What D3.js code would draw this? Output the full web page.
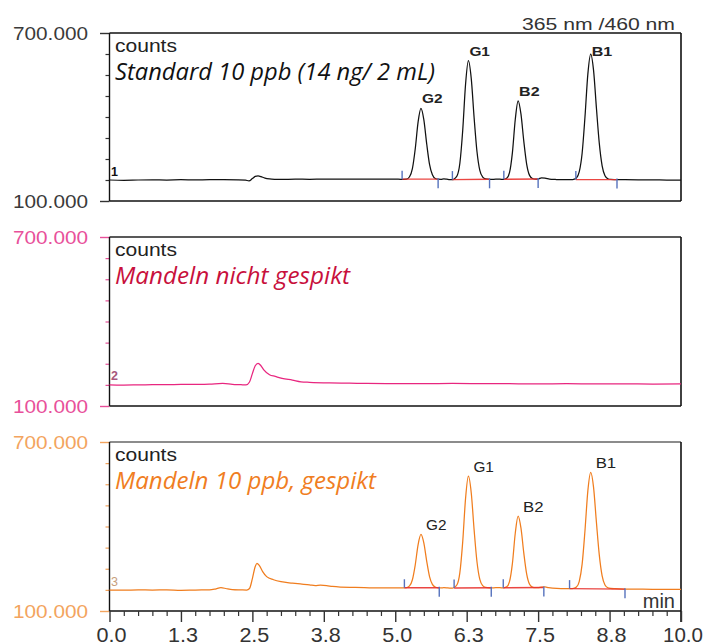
<!DOCTYPE html>
<html>
<head>
<meta charset="utf-8">
<script src="https://cdn.jsdelivr.net/npm/d3@7"></script>
<style>
  html, body { margin: 0; padding: 0; background: #fff; }
  svg { display: block; }
</style>
</head>
<body>
<svg id="chart" width="707" height="644"></svg>
<script>
// ---------------- DATA ----------------
const xTicks = [0, 1.25, 2.5, 3.75, 5, 6.25, 7.5, 8.75, 10];
const xTickLabels = ["0.0", "1.3", "2.5", "3.8", "5.0", "6.3", "7.5", "8.8", "10.0"];
const yDomain = [100, 700];               // thousands of counts
const yTickLabels = ["700.000", "100.000"];
const traceTitles = ["Standard 10 ppb (14 ng/ 2 mL)", "Mandeln nicht gespikt", "Mandeln 10 ppb, gespikt"];
const traceIds = ["1", "2", "3"];
const peakNames = ["G2", "G1", "B2", "B1"];
const peakTimes = [5.45, 6.28, 7.15, 8.42];
const peakHeights1 = [431, 601, 458, 625];
const peakHeights3 = [372, 578.5, 437, 592.5];

// integration windows (start / end time, baseline value at start / end)
const intStart1 = [5.12, 6.00, 6.90, 8.16];
const intEnd1   = [5.75, 6.65, 7.50, 8.88];
const intBaseStart1 = [178, 176.5, 177.5, 176.5];
const intBaseEnd1   = [178, 177.5, 178.5, 176.5];
const intStart3 = [5.16, 6.03, 6.89, 8.05];
const intEnd3   = [5.77, 6.68, 7.60, 9.02];
const intBaseStart3 = [182.5, 181.5, 182.5, 179.5];
const intBaseEnd3   = [182.5, 182.5, 183.5, 177.5];

// traces: [time (min), counts (thousands)]
const trace1 = [
  [0,175],[0.25,174],[0.5,175],[0.75,175.5],[1,175],[1.25,176],[1.5,175.5],[1.75,176],[2,176],[2.25,175.5],[2.38,174.5],[2.44,172],[2.5,180],[2.55,188],[2.6,190],[2.65,187],[2.72,182],[2.8,179],[2.9,177.5],[3,177],[3.1,177.5],[3.25,178],[3.5,177.5],[3.75,178],[4,178],[4.25,178],[4.5,178.5],[4.75,178],[5,178],[5.1,177.5],
  [5.2,178.5],[5.25,186.5],[5.3,215.5],[5.35,286.5],[5.4,382.5],[5.45,431],[5.5,390.5],[5.55,304.5],[5.6,230.5],[5.65,193.5],[5.7,180.5],[5.75,178],[5.8,177.5],[5.85,179],[5.9,178],[5.95,176.5],[6.0,176],
  [6.03,178.7],[6.08,189],[6.13,234],[6.18,351],[6.23,516],[6.28,601],[6.33,537],[6.38,397.5],[6.43,276.6],[6.48,209],[6.53,185.5],[6.58,179],[6.65,177.5],[6.72,177.5],[6.8,178],[6.86,177.5],
  [6.9,177.5],[6.95,181],[7.0,202],[7.05,273],[7.1,391],[7.15,458],[7.2,410],[7.25,312],[7.3,231],[7.35,191.5],[7.4,180.5],[7.45,178],[7.5,178.5],[7.56,183],[7.62,182],[7.7,178.5],[7.8,177],[7.9,176],[8.0,176],[8.07,176.5],
  [8.12,177.5],[8.17,182.3],[8.22,204.7],[8.27,270.7],[8.32,400.7],[8.37,553.2],[8.42,625],[8.47,566.7],[8.52,432.1],[8.57,306.6],[8.62,225.8],[8.67,190.4],[8.72,179.6],[8.77,177],[8.85,176.5],[9.0,176],[9.25,175.5],[9.5,175.5],[9.75,175],[10,175]
];
const trace2 = [
  [0,174.6],[0.25,174.5],[0.5,175],[0.75,175.5],[1,176],[1.25,176.5],[1.5,177],[1.75,178],[1.98,180],[2.15,177],[2.3,175.5],[2.39,174.6],[2.45,185],[2.5,215],[2.55,243],[2.6,251.6],[2.65,243],[2.7,228],[2.8,211],[2.9,205],[3.02,198],[3.2,192],[3.35,186],[3.5,184],[3.85,181.7],[4.2,181],[4.5,180],[5,179.5],[5.5,179],[6,180],[6.5,179.5],[7,179],[7.5,178.5],[8,179],[8.5,178.5],[9,178.5],[9.5,178],[10,178.5]
];
const trace3 = [
  [0,174.5],[0.25,174],[0.5,175],[0.75,174.5],[1,175],[1.25,173.5],[1.5,174.5],[1.75,175],[1.85,178],[1.95,183],[2.05,179],[2.15,176],[2.3,175],[2.4,174.5],[2.45,180],[2.5,215],[2.55,258],[2.58,269],[2.62,262],[2.68,240],[2.75,222],[2.87,211],[3.0,204],[3.2,199],[3.34,196],[3.5,193],[3.6,190],[3.69,191.5],[3.8,190],[3.9,187],[4.04,185],[4.3,184],[4.74,182],[5.0,182.5],[5.1,182],
  [5.2,183.4],[5.25,189],[5.3,211],[5.35,264],[5.4,336],[5.45,372],[5.5,341.7],[5.55,277.3],[5.6,222.3],[5.65,194.4],[5.7,185],[5.75,182.5],[5.8,182],[5.85,183],[5.9,182.5],[5.95,181.5],[6.0,181.5],
  [6.03,183.6],[6.08,193],[6.13,235.5],[6.18,344.6],[6.23,499],[6.28,578.5],[6.33,519],[6.38,388],[6.43,275],[6.48,212],[6.53,190],[6.58,184],[6.65,182.5],[6.72,182.5],[6.8,183],[6.86,182.5],
  [6.9,182.5],[6.95,185.8],[7.0,205],[7.05,269],[7.1,376],[7.15,437],[7.2,394],[7.25,304.7],[7.3,231],[7.35,195],[7.4,185],[7.45,183],[7.5,183],[7.56,185],[7.62,185.5],[7.68,183],[7.75,181],[7.9,179.5],[8.0,179.5],[8.07,179.5],
  [8.12,180.3],[8.17,184.9],[8.22,205.5],[8.27,266.2],[8.32,386],[8.37,526.4],[8.42,592.5],[8.47,538.8],[8.52,415],[8.57,299.3],[8.62,225],[8.67,192.3],[8.72,182.4],[8.77,180],[8.85,179],[9.0,178],[9.25,177.5],[9.5,177],[9.75,177],[10,177]
];

// ---------------- LAYOUT / STYLE ----------------
const svg = d3.select("#chart");
svg.append("rect").attr("width", 707).attr("height", 644).attr("fill", "#fff");

const plotL = 109.5, plotR = 681, tickL = 100;
const x = d3.scaleLinear().domain([0, 10]).range([plotL, plotR]);
const SANS = "'Liberation Sans', Arial, sans-serif";
const titleWidths = [320, 235, 261];

const panels = [
  { top: 33,  bottom: 201, data: trace1, traceColor: "#111", labelColor: "#3a3a3a", tickColor: "#333",
    titleColor: "#111", idColor: "#111", idWeight: "bold", topColor: "#111",
    peaks: peakHeights1, ints: [intStart1, intEnd1, intBaseStart1, intBaseEnd1],
    peakFont: 12, peakWeight: "bold", peakDx: 1, peakDy: 5, peakMin: 23 },
  { top: 237, bottom: 406, data: trace2, traceColor: "#e8267f", labelColor: "#e8509a", tickColor: "#e8509a",
    titleColor: "#c8103c", idColor: "#a8587c", idWeight: "bold", topColor: "#222",
    peaks: null, ints: null },
  { top: 442, bottom: 611, data: trace3, traceColor: "#f07d1e", labelColor: "#f3a45e", tickColor: "#f3a45e",
    titleColor: "#f07d22", idColor: "#c79e7c", idWeight: "normal", topColor: "#666",
    peaks: peakHeights3, ints: [intStart3, intEnd3, intBaseStart3, intBaseEnd3],
    peakFont: 14, peakWeight: "normal", peakDx: 5, peakDy: 4.5, peakMin: 25 }
];

panels.forEach((p, i) => {
  const y = d3.scaleLinear().domain(yDomain).range([p.bottom, p.top]);
  const g = svg.append("g");

  // y ticks (major + minor)
  const minor = d3.range(yDomain[0] + 75, yDomain[1], 75);
  const yMinorAxis = d3.axisLeft(y).tickValues(minor).tickSize(4).tickFormat("");
  const gMin = g.append("g").attr("transform", `translate(${plotL},0)`).call(yMinorAxis);
  gMin.select(".domain").remove();
  gMin.selectAll("line").attr("stroke", p.tickColor).attr("stroke-width", 1.2);
  const yMajorAxis = d3.axisLeft(y).tickValues(yDomain).tickSize(plotL - tickL).tickFormat("");
  const gMaj = g.append("g").attr("transform", `translate(${plotL},0)`).call(yMajorAxis);
  gMaj.select(".domain").remove();
  gMaj.selectAll("line").attr("stroke", p.tickColor).attr("stroke-width", 1.4);

  // y labels
  [yDomain[1], yDomain[0]].forEach((v, k) => {
    g.append("text").attr("x", 13).attr("y", y(v) + 7)
      .attr("font-family", SANS).attr("font-size", 19)
      .attr("fill", p.labelColor)
      .attr("textLength", 75).attr("lengthAdjust", "spacingAndGlyphs")
      .text(yTickLabels[k]);
  });

  // frame
  g.append("line").attr("x1", plotL).attr("x2", plotR).attr("y1", p.top).attr("y2", p.top)
    .attr("stroke", p.topColor).attr("stroke-width", 1.4);
  g.append("line").attr("x1", plotL).attr("x2", plotR).attr("y1", p.bottom).attr("y2", p.bottom)
    .attr("stroke", "#111").attr("stroke-width", 1.4);
  g.append("line").attr("x1", plotL).attr("x2", plotL).attr("y1", p.top).attr("y2", p.bottom)
    .attr("stroke", "#111").attr("stroke-width", 1.4);
  g.append("line").attr("x1", plotR).attr("x2", plotR).attr("y1", p.top)
    .attr("y2", i === 2 ? p.bottom + 11 : p.bottom)
    .attr("stroke", "#111").attr("stroke-width", 1.6);

  // counts + title
  g.append("text").attr("x", 115).attr("y", p.top + 18.5)
    .attr("font-family", SANS).attr("font-size", 18).attr("fill", "#222")
    .attr("textLength", 62).attr("lengthAdjust", "spacingAndGlyphs")
    .text("counts");
  g.append("text").attr("x", 115).attr("y", p.top + 47)
    .attr("font-family", "'Open Sans', sans-serif").attr("font-style", "italic")
    .attr("font-size", 23).attr("fill", p.titleColor)
    .attr("textLength", titleWidths[i]).attr("lengthAdjust", "spacingAndGlyphs")
    .text(traceTitles[i]);

  // trace id
  g.append("text").attr("x", 111).attr("y", y(p.data[0][1]) - 4.5)
    .attr("font-family", SANS).attr("font-size", 12.5).attr("font-weight", p.idWeight)
    .attr("fill", p.idColor).text(traceIds[i]);

  // trace
  const line = d3.line().x(d => x(d[0])).y(d => y(d[1])).curve(d3.curveMonotoneX);
  g.append("path").datum(p.data).attr("d", line)
    .attr("fill", "none").attr("stroke", p.traceColor).attr("stroke-width", 1.25)
    .attr("stroke-linejoin", "round");

  // integration baselines + markers
  if (p.ints) {
    const [s, e, bs, be] = p.ints;
    s.forEach((t0, k) => {
      g.append("line").attr("x1", x(t0)).attr("x2", x(e[k]))
        .attr("y1", y(bs[k])).attr("y2", y(be[k]))
        .attr("stroke", "#e8322e").attr("stroke-width", 1.4).attr("opacity", 0.9);
      g.append("line").attr("x1", x(t0)).attr("x2", x(t0))
        .attr("y1", y(bs[k])).attr("y2", y(bs[k]) - 8.5)
        .attr("stroke", "#5672bd").attr("stroke-width", 1.4);
      g.append("line").attr("x1", x(e[k])).attr("x2", x(e[k]))
        .attr("y1", y(be[k]) - 1).attr("y2", y(be[k]) + 9)
        .attr("stroke", "#5672bd").attr("stroke-width", 1.4);
    });
  }

  // peak labels
  if (p.peaks) {
    peakNames.forEach((nm, k) => {
      g.append("text")
        .attr("x", x(peakTimes[k]) + p.peakDx)
        .attr("y", Math.max(y(p.peaks[k]) - p.peakDy, p.top + p.peakMin))
        .attr("font-family", SANS).attr("font-size", p.peakFont).attr("font-weight", p.peakWeight)
        .attr("fill", "#222")
        .attr("textLength", 20.5).attr("lengthAdjust", "spacingAndGlyphs")
        .text(nm);
    });
  }

  // bottom x axis on last panel
  if (i === 2) {
    const minorX = d3.range(0, 10.001, 0.25).filter(v => Math.abs(v / 1.25 - Math.round(v / 1.25)) > 1e-6);
    const gxm = g.append("g").attr("transform", `translate(0,${p.bottom})`)
      .call(d3.axisBottom(x).tickValues(minorX).tickSize(5).tickFormat(""));
    gxm.select(".domain").remove();
    gxm.selectAll("line").attr("stroke", "#333").attr("stroke-width", 1.2);
    const gxM = g.append("g").attr("transform", `translate(0,${p.bottom})`)
      .call(d3.axisBottom(x).tickValues(xTicks).tickSize(11).tickFormat(""));
    gxM.select(".domain").remove();
    gxM.selectAll("line").attr("stroke", "#333").attr("stroke-width", 1.4);
    xTicks.forEach((t, k) => {
      const lbl = xTickLabels[k];
      g.append("text").attr("x", x(t) + 2).attr("y", 641.5)
        .attr("text-anchor", "middle")
        .attr("font-family", SANS).attr("font-size", 20).attr("fill", "#333")
        .attr("textLength", lbl.length > 3 ? 40 : 30).attr("lengthAdjust", "spacingAndGlyphs")
        .text(lbl);
    });
    g.append("text").attr("x", 675).attr("y", 608)
      .attr("text-anchor", "end")
      .attr("font-family", SANS).attr("font-size", 20).attr("fill", "#333")
      .text("min");
  }
});

// detector label
svg.append("text").attr("x", 522).attr("y", 30)
  .attr("font-family", SANS).attr("font-size", 16).attr("fill", "#333")
  .attr("textLength", 153).attr("lengthAdjust", "spacingAndGlyphs")
  .text("365 nm /460 nm");
</script>
</body>
</html>
